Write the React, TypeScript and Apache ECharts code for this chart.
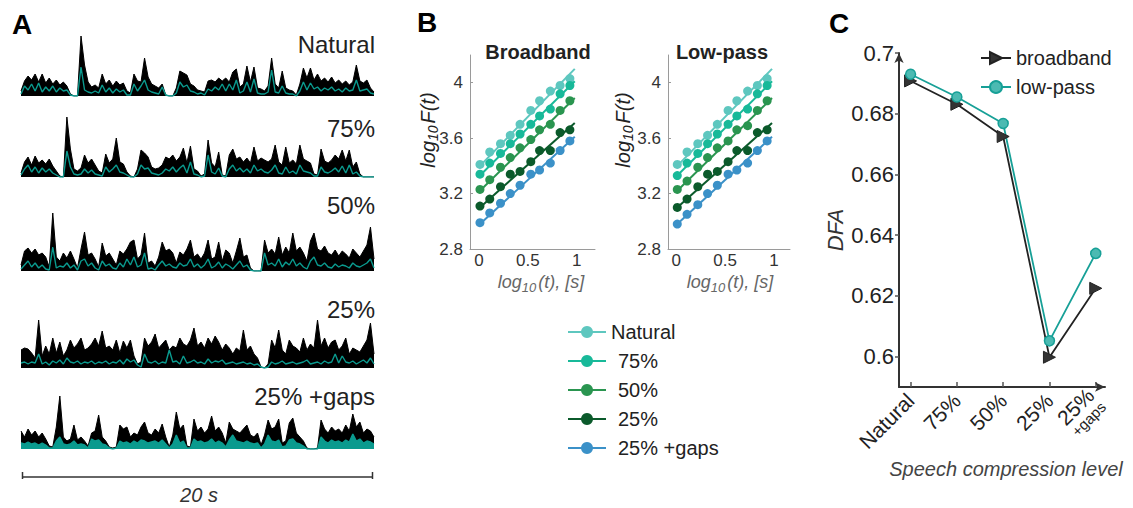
import React, { useEffect, useRef } from 'react';
import * as echarts from 'echarts';

// ---------- Panel A: envelopes (black = broadband, teal = low-pass) ----------
const traceLabels = ['Natural', '75%', '50%', '25%', '25% +gaps'];

const natBlack = [5,15,20,16,22,14,22,13,18,12,16,11,14,10,2,0,0,60,31,14,9,11,8,22,12,16,10,15,11,13,5,3,22,15,14,38,19,12,10,8,12,1,0,0,8,25,23,21,12,10,6,5,4,15,16,14,18,15,18,14,24,27,9,12,30,14,29,8,7,5,10,38,12,8,25,8,6,5,1,12,28,18,28,16,22,15,18,14,19,13,16,12,15,11,14,31,15,13,16,8,4];
const natTeal = [2,10,6,12,5,13,4,9,5,10,4,8,5,6,1,0,0,29,6,4,3,5,3,11,4,8,3,7,4,6,1,1,12,5,10,16,6,4,3,2,9,1,0,0,3,14,9,11,5,4,2,3,1,7,5,9,6,12,5,12,6,16,3,5,14,4,17,3,2,2,4,26,4,3,10,3,2,2,0,5,14,6,13,7,9,5,8,6,9,5,7,4,8,5,6,16,5,6,7,3,2];
const b75Black = [4,15,20,12,21,14,17,13,18,11,6,1,0,60,28,8,6,9,22,14,18,12,6,4,23,14,18,39,15,13,5,1,0,8,27,24,20,10,8,9,12,20,18,22,16,20,29,14,31,8,6,1,3,37,14,10,25,2,1,22,28,18,20,15,19,14,30,16,19,17,15,18,32,15,12,30,14,17,13,32,18,16,14,3,2,28,16,14,17,22,18,27,16,27,10,15,3,0,0,0,0];
const b75Teal = [2,8,12,5,10,4,9,5,8,4,2,0,0,26,10,3,2,3,8,4,7,3,2,1,10,5,8,12,5,4,2,0,0,3,12,8,9,4,3,2,4,8,6,10,5,9,12,4,15,3,2,0,1,22,5,3,9,1,0,8,12,6,9,5,8,4,12,6,8,5,4,7,12,4,3,10,4,6,3,12,6,5,4,1,1,10,5,4,6,9,5,11,4,12,3,5,1,0,0,0,0];
const b50Black = [6,20,23,18,22,16,18,14,4,58,14,10,18,13,20,12,3,22,39,16,18,12,4,28,15,18,12,6,20,17,22,29,31,12,16,38,8,10,5,14,29,20,22,18,8,19,16,22,31,14,17,12,18,31,12,14,29,10,21,18,8,20,33,14,16,3,0,0,0,31,18,22,17,34,16,24,18,38,20,24,18,10,30,38,22,20,25,18,16,21,15,20,17,13,22,18,14,20,26,44,12];
const b50Teal = [2,6,10,4,8,3,6,2,1,24,3,5,4,8,3,6,1,10,12,5,8,3,1,10,5,7,3,2,8,4,12,6,14,4,6,18,2,3,1,6,10,5,7,4,3,8,5,6,12,4,7,3,6,12,3,5,9,3,7,5,2,6,10,4,6,1,0,0,0,18,6,8,5,12,4,9,6,12,5,8,4,2,10,14,6,5,8,4,3,7,4,6,5,3,8,5,4,6,8,12,3];
const b25Black = [18,20,19,15,10,48,12,22,14,30,15,26,12,18,28,20,24,30,18,20,24,30,22,37,20,22,18,28,15,27,20,28,12,4,6,30,22,26,34,20,24,28,18,22,20,30,24,22,28,40,22,26,20,30,24,32,26,18,24,20,14,20,17,38,18,22,14,10,1,0,4,28,20,38,18,14,28,22,20,16,30,18,24,20,48,22,30,20,26,28,18,22,30,14,20,18,16,22,28,45,14];
const b25Teal = [5,6,4,6,5,14,4,6,3,7,5,8,4,10,6,5,7,4,6,5,7,4,6,5,7,4,6,5,8,4,9,6,8,3,1,14,6,5,7,4,6,5,18,6,7,4,12,5,6,8,5,6,4,9,5,7,6,8,4,5,6,4,5,6,4,5,3,4,1,0,1,6,4,5,7,4,5,6,4,5,6,8,4,5,6,4,7,5,6,14,5,12,6,5,7,4,6,8,5,10,4];
const gapsBlack = [18,12,20,14,18,12,16,10,3,2,22,53,12,8,10,24,9,12,8,3,16,18,34,12,8,2,1,2,24,20,22,12,16,14,22,27,16,14,20,16,25,12,2,14,37,20,24,3,2,30,18,22,16,20,33,18,22,16,6,27,20,18,16,20,24,14,12,16,4,14,29,20,22,30,6,8,26,31,16,12,8,1,0,0,1,29,20,16,22,18,20,16,24,18,35,22,27,16,20,18,12];
const gapsTeal = [6,5,7,5,6,4,6,4,1,1,8,12,5,4,5,8,4,5,4,1,10,8,9,5,4,1,0,1,8,6,7,5,8,6,9,8,6,7,8,6,9,5,1,5,14,6,8,1,1,10,7,8,6,7,10,6,8,6,2,9,14,8,7,6,8,6,5,6,1,5,14,8,7,9,2,3,9,10,6,5,3,0,0,0,0,12,8,6,9,7,8,6,9,7,15,8,10,6,8,7,5];

// ---------- Panel B: DFA fluctuation functions ----------
const conditions = ['Natural', '75%', '50%', '25%', '25% +gaps'];
const logT = [0.01, 0.11, 0.22, 0.32, 0.42, 0.53, 0.62, 0.73, 0.83, 0.93];
const fitX = [0.01, 0.98];

const bbNatural = [3.41, 3.50, 3.56, 3.62, 3.70, 3.80, 3.87, 3.94, 3.98, 4.03];
const bb75 = [3.34, 3.42, 3.49, 3.56, 3.63, 3.70, 3.76, 3.81, 3.92, 3.98];
const bb50 = [3.23, 3.30, 3.39, 3.46, 3.53, 3.59, 3.66, 3.70, 3.80, 3.87];
const bb25 = [3.11, 3.16, 3.25, 3.34, 3.36, 3.43, 3.51, 3.51, 3.64, 3.66];
const bbGaps = [2.99, 3.06, 3.13, 3.20, 3.26, 3.34, 3.37, 3.42, 3.51, 3.58];
const bbFitStart = [3.40, 3.33, 3.22, 3.10, 2.98];
const bbFitEnd = [4.10, 4.01, 3.89, 3.71, 3.61];

const lpNatural = [3.41, 3.50, 3.56, 3.62, 3.70, 3.80, 3.87, 3.94, 3.98, 4.03];
const lp75 = [3.33, 3.42, 3.49, 3.56, 3.63, 3.70, 3.76, 3.81, 3.92, 3.98];
const lp50 = [3.23, 3.29, 3.39, 3.46, 3.53, 3.58, 3.66, 3.69, 3.80, 3.87];
const lp25 = [3.10, 3.16, 3.25, 3.34, 3.36, 3.43, 3.51, 3.51, 3.64, 3.66];
const lpGaps = [2.98, 3.05, 3.12, 3.20, 3.26, 3.34, 3.37, 3.42, 3.51, 3.58];
const lpFitStart = [3.40, 3.33, 3.22, 3.10, 2.98];
const lpFitEnd = [4.10, 4.01, 3.89, 3.71, 3.61];

const bYTicks = [2.8, 3.2, 3.6, 4];
const bXTicks = [0, 0.5, 1];

// ---------- Panel C: DFA exponent ----------
const cCategories = ['Natural', '75%', '50%', '25%', '25% +gaps'];
const dfaBroadband = [0.6908, 0.6831, 0.6725, 0.5998, 0.6225];
const dfaLowpass = [0.6930, 0.6855, 0.6768, 0.6052, 0.6340];
const cYTicks = [0.6, 0.62, 0.64, 0.66, 0.68, 0.7];

const FONT = '"Liberation Sans", Arial, Helvetica, sans-serif';
const TEAL = '#0a9a8e';
const condColors = ['#5ec7bf', '#18b999', '#2a9550', '#0b5a2b', '#3b91c8'];

function buildOption() {
  const grid: any[] = [];
  const xAxis: any[] = [];
  const yAxis: any[] = [];
  const series: any[] = [];

  // Panel A
  const aBlack = [natBlack, b75Black, b50Black, b25Black, gapsBlack];
  const aTeal = [natTeal, b75Teal, b50Teal, b25Teal, gapsTeal];
  const aTops = [36, 117, 211, 308, 389];
  aTops.forEach((top, i) => {
    grid.push({ left: 21, top, width: 353, height: 60 });
    xAxis.push({ type: 'value', gridIndex: i, min: 0, max: 1, show: false });
    yAxis.push({ type: 'value', gridIndex: i, min: 0, max: 60, show: false });
    const blk = aBlack[i];
    const tl = aTeal[i];
    series.push({
      type: 'line', xAxisIndex: i, yAxisIndex: i, symbol: 'none', silent: true,
      data: blk.map((v, j) => [j / (blk.length - 1), v]),
      lineStyle: { color: '#000', width: 1 },
      areaStyle: { color: '#000', opacity: 1 },
    });
    series.push({
      type: 'line', xAxisIndex: i, yAxisIndex: i, symbol: 'none', silent: true,
      data: tl.map((v, j) => [j / (tl.length - 1), v]),
      lineStyle: { color: TEAL, width: 1.4 },
      areaStyle: i === 4 ? { color: TEAL, opacity: 1 } : undefined,
    });
  });

  // Panel B
  const bDefs = [
    { left: 470, width: 125, min: -0.092, max: 1.187, pts: [bbNatural, bb75, bb50, bb25, bbGaps], fs: bbFitStart, fe: bbFitEnd },
    { left: 668, width: 122, min: -0.085, max: 1.164, pts: [lpNatural, lp75, lp50, lp25, lpGaps], fs: lpFitStart, fe: lpFitEnd },
  ];
  bDefs.forEach((d, k) => {
    const gi = 5 + k;
    grid.push({ left: d.left, top: 55, width: d.width, height: 194 });
    xAxis.push({
      type: 'value', gridIndex: gi, min: d.min, max: d.max,
      axisLine: { show: true, onZero: false, lineStyle: { color: '#9a9a9a', width: 1 } },
      axisTick: { show: false },
      axisLabel: { customValues: bXTicks, fontSize: 17, color: '#333', margin: 3, fontFamily: FONT },
      splitLine: { show: false },
    });
    yAxis.push({
      type: 'value', gridIndex: gi, min: 2.8, max: 4.2,
      axisLine: { show: true, onZero: false, lineStyle: { color: '#9a9a9a', width: 1 } },
      axisTick: { show: true, inside: true, length: 3, customValues: bYTicks, lineStyle: { color: '#9a9a9a' } },
      axisLabel: { customValues: bYTicks, fontSize: 17, color: '#333', margin: 7, fontFamily: FONT, formatter: (v: number) => String(+v.toFixed(1)) },
      splitLine: { show: false },
    });
    conditions.forEach((name, c) => {
      series.push({
        type: 'line', name, xAxisIndex: gi, yAxisIndex: gi, symbol: 'circle', showSymbol: false, silent: true,
        data: [[fitX[0], d.fs[c]], [fitX[1], d.fe[c]]],
        lineStyle: { color: condColors[c], width: 2 },
        itemStyle: { color: condColors[c] },
      });
    });
    conditions.forEach((name, c) => {
      series.push({
        type: 'scatter', name: name + ' points', xAxisIndex: gi, yAxisIndex: gi, symbolSize: 9, silent: true,
        data: logT.map((x, j) => [x, d.pts[c][j]]),
        itemStyle: { color: condColors[c], opacity: 1 },
      });
    });
  });

  // Panel C
  grid.push({ left: 899, top: 53, width: 206, height: 334 });
  xAxis.push({
    type: 'value', gridIndex: 7, min: -0.25, max: 4.2,
    axisLine: { show: true, onZero: false, lineStyle: { color: '#333', width: 2 }, symbol: ['none', 'arrow'], symbolSize: [7, 10] },
    axisTick: { show: true, inside: true, length: 5, customValues: [0, 1, 2, 3, 4], lineStyle: { color: '#555', width: 1.5 } },
    axisLabel: {
      customValues: [0, 1, 2, 3, 4], rotate: 45, margin: 10, color: '#222', fontFamily: FONT,
      formatter: (v: number) => {
        const lab = cCategories[Math.round(v)];
        if (lab === '25% +gaps') return '{a|25%}\n{b|+gaps}';
        return '{a|' + lab + '}';
      },
      rich: {
        a: { fontSize: 21, color: '#222', fontFamily: FONT },
        b: { fontSize: 15, color: '#222', fontFamily: FONT },
      },
    },
    splitLine: { show: false },
    name: 'Speech compression level', nameLocation: 'middle', nameGap: 70,
    nameTextStyle: { fontStyle: 'italic', fontSize: 20, color: '#444', fontFamily: FONT, padding: [0, 0, 0, 8] },
  });
  yAxis.push({
    type: 'value', gridIndex: 7, min: 0.59, max: 0.70,
    axisLine: { show: true, onZero: false, lineStyle: { color: '#333', width: 2 }, symbol: ['none', 'arrow'], symbolSize: [7, 10] },
    axisTick: { show: true, length: 4, customValues: cYTicks, lineStyle: { color: '#555', width: 1.5 } },
    axisLabel: { customValues: cYTicks, fontSize: 22, color: '#222', margin: 5, fontFamily: FONT },
    splitLine: { show: false },
  });
  series.push({
    type: 'line', name: 'broadband', xAxisIndex: 7, yAxisIndex: 7,
    data: dfaBroadband.map((v, i) => [i, v]),
    symbol: 'triangle', symbolRotate: -90, symbolSize: 12,
    lineStyle: { color: '#222', width: 1.8 },
    itemStyle: { color: '#333', borderColor: '#222', borderWidth: 1 },
  });
  series.push({
    type: 'line', name: 'low-pass', xAxisIndex: 7, yAxisIndex: 7,
    data: dfaLowpass.map((v, i) => [i, v]),
    symbol: 'circle', symbolSize: 10,
    lineStyle: { color: '#17a097', width: 1.8 },
    itemStyle: { color: '#4cbab2', borderColor: '#17a097', borderWidth: 1.5 },
  });

  const txt = (x: number, y: number, text: string, o: any = {}) => ({
    type: 'text', x, y, rotation: o.rotation || 0, silent: true,
    style: {
      text, fontSize: o.fontSize || 20, fontFamily: FONT, fontWeight: o.fontWeight || 'normal',
      fontStyle: o.fontStyle || 'normal', fill: o.fill || '#222',
      textAlign: o.align || 'center', align: o.align || 'center',
      textVerticalAlign: 'middle', verticalAlign: 'middle',
      rich: o.rich,
    },
  });

  const mkRich = (col: string, big: number, small: number) => ({
    a: { fontSize: big, fontStyle: 'italic', fontFamily: FONT, fill: col, color: col },
    s: { fontSize: small, fontStyle: 'italic', fontFamily: FONT, fill: col, color: col, padding: [10, 2, 0, 0] },
  });

  const graphic: any[] = [
    txt(22, 24, 'A', { fontSize: 28, fontWeight: 'bold', fill: '#000' }),
    txt(427, 22, 'B', { fontSize: 28, fontWeight: 'bold', fill: '#000' }),
    txt(839, 23, 'C', { fontSize: 28, fontWeight: 'bold', fill: '#000' }),
    txt(375, 44, traceLabels[0], { fontSize: 24, align: 'right' }),
    txt(375, 128, traceLabels[1], { fontSize: 24, align: 'right' }),
    txt(375, 205, traceLabels[2], { fontSize: 24, align: 'right' }),
    txt(375, 309, traceLabels[3], { fontSize: 24, align: 'right' }),
    txt(375, 396, traceLabels[4], { fontSize: 24, align: 'right' }),
    { type: 'line', silent: true, shape: { x1: 22, y1: 477, x2: 373, y2: 477 }, style: { stroke: '#333', lineWidth: 1.5 } },
    { type: 'line', silent: true, shape: { x1: 22.5, y1: 472, x2: 22.5, y2: 479 }, style: { stroke: '#333', lineWidth: 1.5 } },
    { type: 'line', silent: true, shape: { x1: 372.5, y1: 472, x2: 372.5, y2: 479 }, style: { stroke: '#333', lineWidth: 1.5 } },
    txt(199, 495, '20 s', { fontSize: 20, fontStyle: 'italic', fill: '#333' }),
    txt(538, 52, 'Broadband', { fontSize: 20, fontWeight: 'bold' }),
    txt(722, 52, 'Low-pass', { fontSize: 20, fontWeight: 'bold' }),
    txt(428, 130, '{a|log}{s|10}{a|F(t)}', { rotation: Math.PI / 2, rich: mkRich('#222', 20, 14) }),
    txt(623, 130, '{a|log}{s|10}{a|F(t)}', { rotation: Math.PI / 2, rich: mkRich('#222', 20, 14) }),
    txt(541, 282, '{a|log}{s|10}{a|(t), [s]}', { rich: mkRich('#666', 18, 13) }),
    txt(730, 282, '{a|log}{s|10}{a|(t), [s]}', { rich: mkRich('#666', 18, 13) }),
    txt(835, 230, 'DFA', { rotation: Math.PI / 2, fontSize: 22, fontStyle: 'italic', fill: '#333' }),
  ];

  return {
    animation: false,
    backgroundColor: '#fff',
    textStyle: { fontFamily: FONT },
    grid, xAxis, yAxis, series, graphic,
    legend: [
      {
        data: conditions, orient: 'vertical', left: 567, top: 322, padding: 0,
        itemWidth: 38, itemHeight: 15, itemGap: 9, selectedMode: false,
        textStyle: { fontSize: 20, color: '#222', fontFamily: FONT, rich: { s: { width: 7 } } },
        formatter: (name: string) => (name === 'Natural' ? name : '{s|}' + name),
      },
      {
        data: ['broadband', 'low-pass'], orient: 'vertical', left: 980, top: 48, padding: 0,
        itemWidth: 30, itemHeight: 15, itemGap: 9, selectedMode: false,
        textStyle: { fontSize: 20, color: '#222', fontFamily: FONT },
      },
    ],
  };
}

export default function App() {
  const ref = useRef<HTMLDivElement>(null);
  useEffect(() => {
    if (!ref.current) return;
    const chart = echarts.init(ref.current, undefined, { renderer: 'svg' });
    chart.setOption(buildOption() as any);
    return () => chart.dispose();
  }, []);
  return <div ref={ref} style={{ position: 'absolute', left: 0, top: 0, width: 1133, height: 508 }} />;
}
